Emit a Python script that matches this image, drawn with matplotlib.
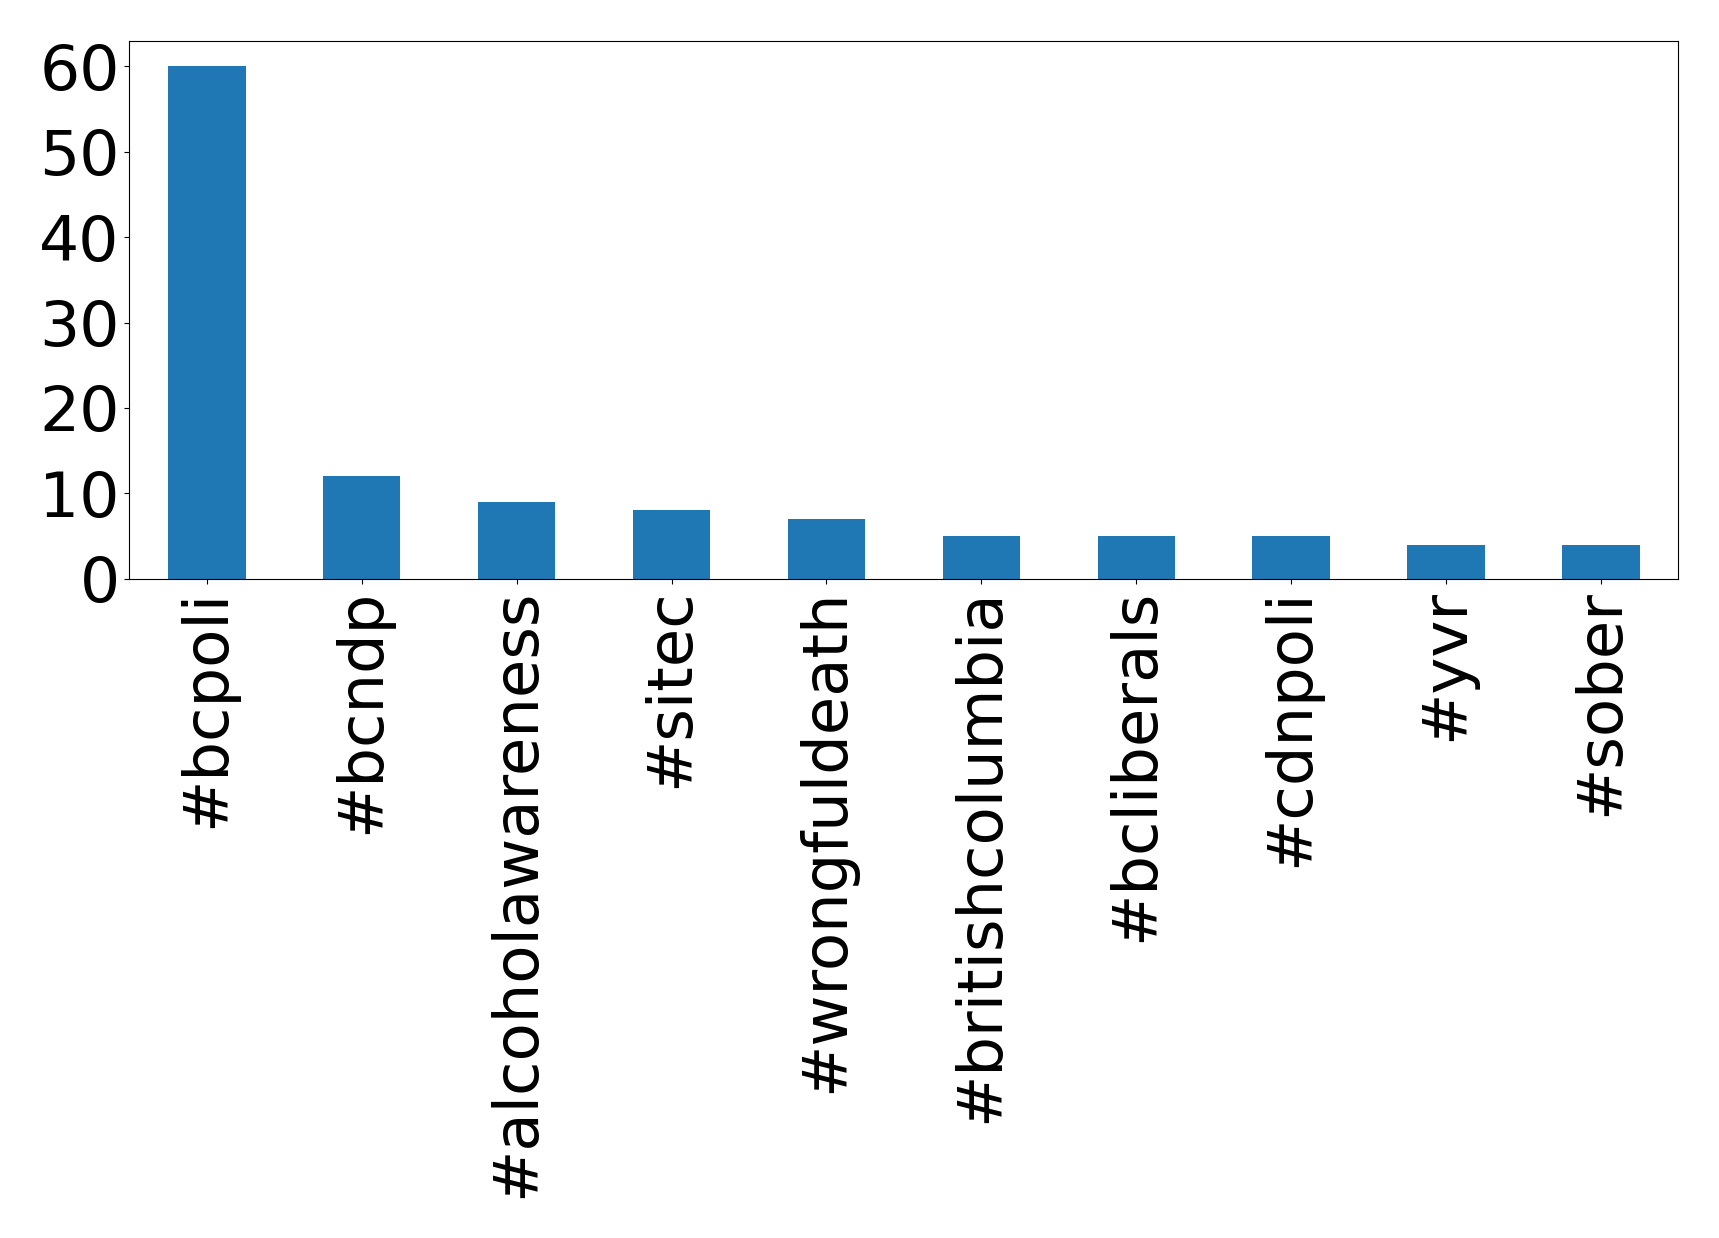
import matplotlib
matplotlib.use("Agg")
import matplotlib.pyplot as plt

hashtags = ["#bcpoli", "#bcndp", "#alcoholawareness", "#sitec", "#wrongfuldeath",
            "#britishcolumbia", "#bcliberals", "#cdnpoli", "#yvr", "#sober"]
counts = [60, 12, 9, 8, 7, 5, 5, 5, 4, 4]

fig = plt.figure(figsize=(17.19, 12.38), dpi=100)
ax = fig.add_axes([129.4 / 1719, 1 - 578.8 / 1238, (1678.4 - 129.4) / 1719, (578.8 - 40.6) / 1238])
x = list(range(len(hashtags)))
ax.bar(x, counts, width=0.5, color="#1f77b4")
ax.set_xlim(-0.5, len(hashtags) - 0.5)
ax.set_ylim(0, 63)
ax.set_xticks(x)
ax.set_xticklabels(hashtags, rotation=90, fontsize=45)
ax.set_yticks([0, 10, 20, 30, 40, 50, 60])
ax.tick_params(axis="y", labelsize=45.5)
fig.savefig("out.png", dpi=100)
